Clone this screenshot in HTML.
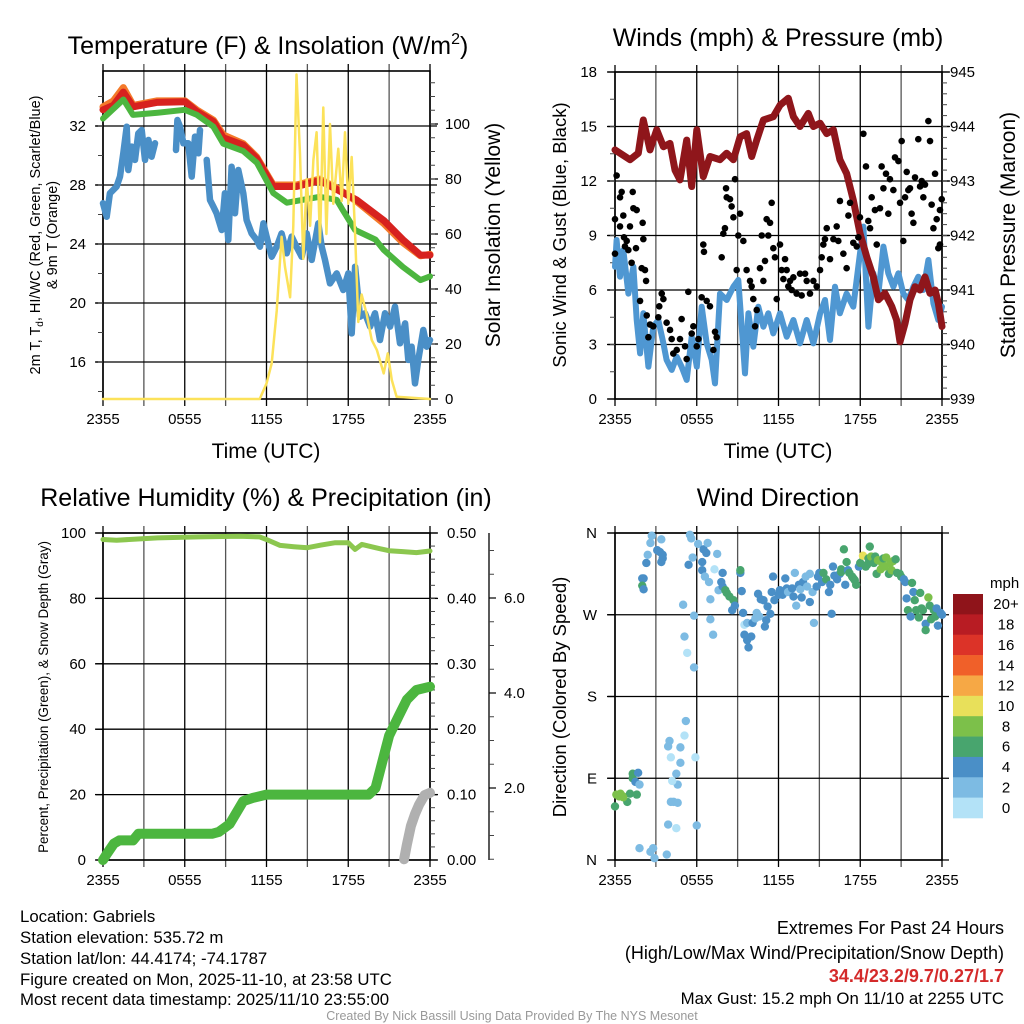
<!DOCTYPE html>
<html><head><meta charset="utf-8"><style>
html,body{margin:0;padding:0;background:#fff}
svg{display:block;font-family:"Liberation Sans",Arial,sans-serif}
</style></head><body>
<svg id="c" xmlns="http://www.w3.org/2000/svg" width="1024" height="1024" viewBox="0 0 1024 1024">
<rect width="1024" height="1024" fill="#fff"/>
<g id="g"></g>
<g font-size="25" fill="#000" text-anchor="middle">
<text x="268" y="54">Temperature (F) &amp; Insolation (W/m<tspan font-size="16" dy="-10">2</tspan><tspan dy="10">)</tspan></text>
<text x="778" y="46">Winds (mph) &amp; Pressure (mb)</text>
<text x="266" y="506">Relative Humidity (%) &amp; Precipitation (in)</text>
<text x="778" y="506">Wind Direction</text>
</g>
<g font-size="21" text-anchor="middle">
<text x="266" y="458">Time (UTC)</text>
<text x="778" y="458">Time (UTC)</text>
<text transform="translate(500,235) rotate(-90)">Solar Insolation (Yellow)</text>
<text transform="translate(1015,235) rotate(-90)">Station Pressure (Maroon)</text>
</g>
<g font-size="18.5" text-anchor="middle">
<text transform="translate(566,235) rotate(-90)">Sonic Wind &amp; Gust (Blue, Black)</text>
<text transform="translate(566,697) rotate(-90)">Direction (Colored By Speed)</text>
</g>
<g font-size="14.5" text-anchor="middle">
<text transform="translate(40,235) rotate(-90)">2m T, T<tspan font-size="10" dy="3">d</tspan><tspan dy="-3">, HI/WC (Red, Green, Scarlet/Blue)</tspan></text>
<text transform="translate(57,235) rotate(-90)">&amp; 9m T (Orange)</text>
</g>
<text transform="translate(48,697) rotate(-90)" font-size="13.4" text-anchor="middle">Percent, Precipitation (Green), &amp; Snow Depth (Gray)</text>
<g font-size="16.8" fill="#000">
<text x="20" y="922">Location: Gabriels</text>
<text x="20" y="943">Station elevation: 535.72 m</text>
<text x="20" y="964">Station lat/lon: 44.4174; -74.1787</text>
<text x="20" y="985">Figure created on Mon, 2025-11-10, at 23:58 UTC</text>
<text x="20" y="1005">Most recent data timestamp: 2025/11/10 23:55:00</text>
<g text-anchor="end">
<text x="1004" y="934" font-size="18">Extremes For Past 24 Hours</text>
<text x="1004" y="959" font-size="18">(High/Low/Max Wind/Precipitation/Snow Depth)</text>
<text x="1004" y="982" font-size="18" fill="#d42a2a" font-weight="bold">34.4/23.2/9.7/0.27/1.7</text>
<text x="1004" y="1004">Max Gust: 15.2 mph On 11/10 at 2255 UTC</text>
</g>
</g>
<text x="512" y="1020" font-size="12.5" fill="#999" text-anchor="middle">Created By Nick Bassill Using Data Provided By The NYS Mesonet</text>
</svg>
<script>
// ---------- data ----------
const xTickLabels=["2355","0555","1155","1755","2355"];
const redT=[0,0.76,1.49,2.22,3.94,6.02,6.87,8.1,8.83,10.3,11.28,12.5,14.2,15.9,17.15,18.6,20.6,22.0,23.3,24];
const redV=[33.1,33.4,34.3,33.3,33.6,33.65,33.0,32.3,31.2,30.7,29.8,27.9,27.9,28.3,27.7,27.0,25.6,24.3,23.25,23.25];
const orangeV=[33.3,33.7,34.6,33.4,33.7,33.7,33.1,32.4,31.4,30.8,29.9,28.0,28.0,28.4,27.8,26.9,25.4,24.1,23.2,23.3];
const greenT=[0,1.5,2.2,4,6,6.9,8.1,8.83,10.3,11.3,12.5,13.5,15.9,17.15,17.6,18.5,20,20.6,22,23.3,24];
const greenV=[32.5,33.8,32.75,32.9,33.1,32.75,31.95,30.8,30.3,29.5,27.45,26.8,27.2,27.0,26.3,24.95,24.3,23.6,22.45,21.55,21.8];
const dewT=[0,0.27,0.51,1,1.25,1.49,1.74,1.86,2.1,2.35,2.59,2.84,3.08,3.33,3.57,3.82,null,5.36,5.46,5.65,5.9,6.26,6.51,6.75,7.0,7.12,null,7.61,7.85,8.1,8.34,8.71,8.95,9.2,9.44,9.69,9.93,10.3,10.54,10.91,11.28,11.52,11.77,12.01,12.38,12.75,13.11,13.48,13.85,14.2,14.58,14.95,15.32,15.8,16.05,16.29,16.66,17.15,17.64,18.0,18.25,18.5,18.86,19.23,19.6,19.96,20.33,20.7,21.07,21.43,21.8,22.17,22.41,22.65,22.9,23.14,23.51,23.76,24];
const dewV=[26.76,25.85,27.44,27.89,28.57,30.15,31.95,29.02,30.6,29.7,31.5,31.73,29.7,31.05,29.92,30.83,null,30.37,32.41,31.95,30.83,30.83,28.57,31.28,30.15,31.73,null,29.7,26.98,26.53,26.08,24.95,27.44,24.27,29.24,26.08,29.02,27.44,25.63,24.72,24.27,23.82,25.4,24.5,23.14,23.82,24.72,23.37,24.5,23.82,23.14,24.72,22.92,25.4,23.82,22.92,21.33,22.01,20.88,22.01,17.94,22.46,19.07,19.3,18.4,19.3,17.49,19.3,18.4,19.75,17.27,18.62,16.14,17.04,14.55,16.14,18.17,17.04,17.49];
const solarT=[0,11.5,12.01,12.38,12.75,13.11,13.36,13.73,13.97,14.2,14.46,14.7,14.95,15.2,15.44,15.68,15.93,16.17,16.4,16.66,16.9,17.27,17.52,17.76,18.0,18.25,18.5,18.74,18.98,19.35,19.72,20.1,20.6,20.9,21.2,21.55,24];
const solarV=[0,0,5.7,13,32,59,48,37,63,118,89,51,80,63,87,97,57,106,60,100,71,91,72,97,71,88,60,28,38,31,21.5,17.8,9.3,16.6,6.9,0.8,0];
const presT=[0,0.37,1.1,1.71,2.08,2.57,3.06,3.55,4.04,4.4,4.77,5.26,5.63,6.0,6.48,6.97,7.7,8.2,8.69,9.18,9.66,10.03,10.4,10.89,11.62,12.11,12.72,13.09,13.58,14.19,14.56,15.05,15.54,16.03,16.51,17.0,17.49,17.98,18.47,18.96,19.33,19.82,20.31,20.67,20.92,21.29,21.65,22.02,22.39,22.75,23.12,23.49,23.73,24];
const presV=[943.57,943.51,943.39,943.51,944.12,943.57,943.94,943.63,943.69,943.2,943.02,943.75,942.9,943.94,943.08,943.45,943.39,943.51,943.39,943.81,943.87,943.45,943.75,944.12,944.18,944.39,944.52,944.18,944.0,944.24,944.0,944.06,943.87,943.94,943.39,943.14,942.65,942.04,941.61,941.24,940.82,940.94,940.7,940.45,940.05,940.39,940.82,941.06,941.0,941.24,940.94,941.0,940.76,940.33];
const windT=[0,0.12,0.37,0.61,0.98,1.35,1.59,1.84,2.08,2.45,2.81,3.18,3.55,3.79,4.16,4.53,4.89,5.26,5.63,6.0,6.36,6.73,7.1,7.34,7.71,8.2,8.69,9.05,9.3,9.54,9.79,10.15,10.52,10.89,11.25,11.62,12.11,12.6,13.09,13.58,14.07,14.56,15.05,15.41,15.78,16.15,16.51,17.0,17.49,17.86,18.23,18.6,18.96,19.33,19.7,20.06,20.43,20.8,21.16,21.53,21.9,22.26,22.63,23.0,23.37,23.73,24];
const windV=[7.28,8.75,6.73,8.2,5.8,7.28,4.35,2.51,4.72,1.78,3.98,4.35,3.06,2.15,1.6,2.33,1.78,1.05,3.43,1.78,5.08,3.06,2.15,0.86,5.8,5.45,6.18,6.55,3.98,1.41,4.72,2.88,5.08,3.98,4.72,3.61,4.72,3.43,4.35,3.06,4.35,3.06,4.72,5.45,3.25,6.18,4.72,5.8,5.08,7.28,9.49,3.98,6.92,5.8,8.39,6.92,6.18,6.92,5.8,5.45,6.18,6.73,6.0,7.65,5.26,4.35,5.08];
const gustT=[0.12,0,0.37,0.49,0.61,0.37,1.1,1.3,1.35,1.59,2.03,0.66,0.86,0.98,0.73,1.54,2.08,1.22,1.96,2.2,2.28,0,1.84,2.33,2.57,2.81,2.45,3.18,3.43,3.25,3.55,3.79,4.04,4.16,4.28,4.53,4.77,4.89,5.14,5.26,5.38,5.63,5.75,6.0,6.12,6.36,6.73,6.97,7.34,7.46,7.22,6.48,6.53,7.83,7.95,8.07,8.15,8.2,8.44,8.56,8.69,8.81,9.05,8.93,9.18,9.42,9.66,9.91,10.03,10.15,10.28,10.4,10.64,10.89,10.77,11.01,11.13,11.25,11.38,11.5,11.62,11.74,11.87,12.11,12.23,12.36,12.48,12.6,12.72,12.85,12.97,13.09,13.33,13.58,13.7,13.95,14.07,14.31,14.56,14.8,15.05,15.17,15.29,15.41,15.54,15.78,16.03,16.27,16.39,16.51,16.76,17.0,17.13,17.25,17.49,17.74,17.86,17.98,18.23,18.42,18.59,18.72,18.84,19.08,19.21,19.45,19.57,19.7,19.89,20.06,20.18,20.43,20.55,20.8,20.92,21.04,21.16,21.29,21.41,21.53,21.65,21.77,21.9,22.02,22.26,22.39,22.51,22.63,22.75,23.0,23.12,23.24,23.37,23.49,23.61,23.73,23.85,23.98,23.85];
const gustV=[12.3,9.9,11.1,11.4,10.1,9.5,9.5,11.4,10.5,10.4,9.7,8.9,8.7,8.2,8.4,8.3,8.8,7.5,7.2,7.1,6.5,8.0,5.4,4.6,4.1,4.0,3.4,4.5,5.8,5.1,5.5,4.2,3.8,3.3,2.5,2.7,3.3,4.4,2.9,2.2,5.9,3.6,4.0,2.9,3.3,5.6,5.4,5.1,3.7,3.4,2.7,8.5,8.1,7.8,9.1,9.4,11.6,11.1,11.0,10.6,10.0,12.1,9.0,7.1,10.2,8.7,7.1,6.5,6.2,5.5,4.0,4.9,7.2,6.5,9.0,7.6,9.9,9.0,9.7,10.8,8.3,7.8,5.5,8.5,7.1,6.6,7.7,7.1,6.2,6.5,6.0,6.7,5.8,6.9,5.7,6.9,6.5,5.8,6.5,6.2,7.1,7.8,8.5,8.8,9.4,7.7,8.8,9.5,8.7,10.9,8.0,7.2,10.1,10.8,8.6,8.4,8.9,10.0,14.6,12.8,9.8,9.4,11.1,10.4,8.5,10.5,12.8,11.6,12.4,10.2,12.1,11.5,13.3,13.1,10.8,14.2,8.7,11.1,12.5,11.5,11.6,10.2,9.7,12.2,14.3,11.7,12.0,11.1,11.8,15.3,14.2,10.7,9.4,12.4,9.9,8.3,10.4,11.0,8.5];
const rhT=[0,1,4,7,10,11.5,12,13,14,15,16,17,18,18.5,19,20,21,22,23,24];
const rhV=[98,97.8,98.5,98.8,99,98.8,98,96.2,95.8,95.5,96.3,97,97,95,96.5,95.5,94.6,94.3,94,94.5];
const precipT=[0,0.3,0.8,1.2,2.2,2.6,8,8.5,9.3,10.3,11,12,19.5,20,20.5,21,21.7,22.3,23,24];
const precipV=[0,0.01,0.025,0.03,0.03,0.04,0.04,0.043,0.055,0.09,0.095,0.10,0.10,0.11,0.15,0.19,0.22,0.245,0.26,0.265];
const snowT=[22.1,22.3,22.6,22.9,23.2,23.6,24];
const snowV=[0.5,0.8,1.2,1.45,1.65,1.85,1.9];
const dirT=[0,0.1,0.4,0.6,0.9,1.1,1.3,1.3,1.7,1.6,1.5,1.8,0.3,0.6,1.8,2.6,2.8,2.9,3.8,3.9,4.5,4.3,4.6,4.1,4.6,4.5,4.2,4.1,4.8,4.0,3.9,4.8,5.1,5.2,5.9,6.0,5.8,5.3,5.1,5.0,5.8,7.0,7.2,2.1,2.0,2.0,2.1,2.3,2.4,2.6,2.7,3.4,3.1,3.3,3.5,3.5,3.4,5.5,5.6,5.7,5.4,6.1,6.5,6.8,6.7,7.5,6.4,6.4,6.6,6.9,7.3,7.6,7.0,7.8,7.9,7.9,8.1,8.2,8.4,8.7,8.6,8.8,9.2,9.2,9.3,9.4,9.5,9.7,9.5,9.7,9.8,10.0,10.1,10.3,10.4,10.6,10.5,10.7,10.9,11.0,11.1,11.2,11.4,11.5,11.6,11.7,12.0,12.1,12.3,12.5,12.6,12.7,13.0,13.1,13.2,13.3,13.5,13.6,13.7,13.8,14.0,14.1,14.3,14.3,14.5,14.6,14.8,14.9,15.0,15.2,15.3,15.5,15.7,15.8,15.9,16.0,16.1,16.3,16.5,16.6,16.6,16.8,16.9,17.0,17.1,17.2,17.4,17.5,17.6,17.7,17.9,18.0,18.2,18.4,18.5,18.6,18.7,18.8,19.0,19.1,19.2,19.3,19.5,19.6,19.7,19.8,19.9,20.1,20.2,20.3,20.4,20.6,20.7,20.9,21.0,21.2,21.3,21.4,21.5,21.7,21.8,21.9,22.0,22.1,22.3,22.4,22.5,22.6,22.8,22.8,23.0,23.1,23.2,23.4,23.5,23.6,23.7,23.9,24.0];
const dirV=[59,72,73,70,64,73,90,95,96,72,86,83,70,69,13,9,13,2,6,39,35,64,63,64,83,95,87,113,107,131,125,124,137,153,113,38,212,228,246,281,269,265,248,310,310,302,298,327,336,349,357,353,341,339,332,336,328,358,354,333,325,348,342,349,338,337,328,319,312,306,320,297,287,306,316,301,297,294,290,286,275,280,316,319,296,272,259,261,248,242,234,246,261,266,272,268,293,287,286,257,264,279,271,295,312,286,292,297,292,310,299,295,299,290,316,280,303,298,289,306,312,301,315,284,295,261,301,312,316,306,316,309,295,303,271,323,313,309,315,317,320,342,303,328,319,316,312,310,308,303,323,327,335,323,325,332,345,334,327,334,315,330,320,327,332,323,333,315,327,319,329,331,316,315,312,309,306,288,275,268,305,295,286,275,267,294,277,275,260,253,289,280,265,275,268,277,258,272,270];
const dirSpd=[6,8,8,8,6,6,6,6,4,6,4,2,8,8,2,2,2,2,2,2,0,2,2,2,2,2,0,0,2,2,2,2,0,2,0,2,2,0,2,2,2,2,2,4,4,6,4,4,2,2,2,2,4,4,4,4,4,2,2,2,4,2,4,2,4,2,4,4,2,2,0,2,2,4,4,4,6,6,6,6,4,4,4,6,4,4,0,2,4,4,4,4,4,2,2,2,4,4,4,4,4,4,4,4,4,4,4,4,4,4,4,2,4,4,2,2,4,2,4,4,2,2,2,4,2,2,4,4,4,4,6,6,4,4,4,4,4,4,4,6,6,6,4,6,4,6,6,6,6,6,4,6,10,6,6,6,6,8,6,6,6,8,8,8,6,8,8,6,8,8,8,6,6,6,6,4,4,4,6,4,6,4,6,6,6,6,6,6,4,6,8,6,6,6,6,4,4,4,4];
const cbLabels=["20+","18","16","14","12","10","8","6","4","2","0"];
const cbColors=["#8f141a","#b81c23","#dc3328","#f06029","#f6a845","#e8e05a","#7cc04a","#48a56e","#4a8fc7","#7dbbe3","#b3e2f7"];

// ---------- helpers ----------
const NS="http://www.w3.org/2000/svg";
const G=document.getElementById('g');
function mk(tag,attrs,parent){const e=document.createElementNS(NS,tag);for(const k in attrs)e.setAttribute(k,attrs[k]);(parent||G).appendChild(e);return e;}
function lin(d0,d1,r0,r1){return v=>r0+(v-d0)*(r1-r0)/(d1-d0);}
function pathD(ts,vs,sx,sy){let d="",pen=false;for(let i=0;i<ts.length;i++){if(ts[i]===null||vs[i]===null){pen=false;continue;}d+=(pen?"L":"M")+sx(ts[i]).toFixed(1)+" "+sy(vs[i]).toFixed(1);pen=true;}return d;}

function panelFrame(x0,x1,y0,y1,name,xlabels){
  const g=mk('g',{});
  
  
  const sx=lin(0,24,x0,x1);
  for(let h=0;h<=24;h+=3){const x=sx(h);const l=mk('line',{x1:x,x2:x,y1:y0-7,y2:y1+7,stroke:h%6===0?'#000':'#555','stroke-width':1.3},g);}
  if(xlabels){xlabels.forEach((s,i)=>{const t=mk('text',{x:sx(i*6),y:y1+25,'font-size':15,'text-anchor':'middle'},g);t.textContent=s;});}
  const r=mk('rect',{x:x0,y:y0,width:x1-x0,height:y1-y0,fill:'none',stroke:'#000','stroke-width':1.6},g);
  
  
  return {sx,g};
}
function yAxis(g,x0,x1,sy,ticks,labels,side,minor,labX,grid){
  ticks.forEach((v,i)=>{const y=sy(v);
    if(grid){const l=mk('line',{x1:x0-7,x2:x1+7,y1:y,y2:y,stroke:'#000','stroke-width':1.3},g);}
    const xx=side==='L'?x0:x1;const l2=mk('line',{x1:xx,x2:side==='L'?xx-8:xx+8,y1:y,y2:y,stroke:'#000','stroke-width':1.3},g);
    const t=mk('text',{x:labX,y:y+5,'font-size':15,'text-anchor':side==='L'?'end':'start'},g);t.textContent=labels[i];});
  if(minor){minor.forEach(v=>{const y=sy(v);const xx=side==='L'?x0:x1;const l=mk('line',{x1:xx,x2:side==='L'?xx-5:xx+5,y1:y,y2:y,stroke:'#444','stroke-width':1},g);});}
}
function range(a,b,s){const r=[];for(let v=a;v<=b+1e-9;v+=s)r.push(+v.toFixed(4));return r;}

// ---------- panel 1 ----------
(function(){
  const x0=103,x1=430,y0=71,y1=399;
  const f=panelFrame(x0,x1,y0,y1,'temperature',xTickLabels);
  const sy=lin(32,16,126,362), sy2=lin(0,100,399,124);
  yAxis(f.g,x0,x1,sy,[32,28,24,20,16],["32","28","24","20","16"],'L',range(14,34,2),86,true);
  yAxis(f.g,x0,x1,sy2,[0,20,40,60,80,100],["0","20","40","60","80","100"],'R',range(5,115,5),445,false);
  const s=f.sx;
  const lines=[[redT,orangeV,'#f47a2a',7,'orange-9m-temp-line'],[redT,redV,'#d7221f',7,'red-2m-temp-line'],[greenT,greenV,'#4cb63f',6,'green-hiwc-line'],[dewT,dewV,'#4a8fc7',6.5,'blue-dewpoint-line'],[solarT,solarV,'#fce25a',2.5,'yellow-insolation-line']];
  lines.forEach(L=>{const p=mk('path',{d:pathD(L[0],L[1],s,L[4].startsWith('yellow')?sy2:sy),fill:'none',stroke:L[2],'stroke-width':L[3],'stroke-linejoin':'round','stroke-linecap':'round'});
    
    });
})();

// ---------- panel 2 ----------
(function(){
  const x0=615,x1=942,y0=72,y1=399;
  const f=panelFrame(x0,x1,y0,y1,'winds',xTickLabels);
  const sy=lin(0,18,399,72), sy2=lin(939,945,399,72);
  yAxis(f.g,x0,x1,sy,[0,3,6,9,12,15,18],["0","3","6","9","12","15","18"],'L',range(1.5,16.5,1.5),597,true);
  yAxis(f.g,x0,x1,sy2,[939,940,941,942,943,944,945],["939","940","941","942","943","944","945"],'R',range(939.2,944.8,0.2),950,false);
  const s=f.sx;
  const gw=mk('path',{d:pathD(windT,windV,s,sy),fill:'none',stroke:'#4f97d2','stroke-width':6,'stroke-linejoin':'round','stroke-linecap':'round'});
  
  
  const gp=mk('path',{d:pathD(presT,presV,s,sy2),fill:'none',stroke:'#8f161b','stroke-width':7,'stroke-linejoin':'round','stroke-linecap':'round'});
  
  
  gustT.forEach((t,i)=>{const c=mk('circle',{cx:s(t),cy:sy(gustV[i]),r:3.3,fill:'#000'});
    
    });
})();

// ---------- panel 3 ----------
(function(){
  const x0=103,x1=430,y0=533,y1=860;
  const f=panelFrame(x0,x1,y0,y1,'humidity',xTickLabels);
  const sy=lin(0,100,860,533), sy2=lin(0,0.5,860,533), sy3=lin(2,4,788,693);
  yAxis(f.g,x0,x1,sy,[0,20,40,60,80,100],["0","20","40","60","80","100"],'L',null,86,true);
  yAxis(f.g,x0,x1,sy2,[0,0.1,0.2,0.3,0.4,0.5],["0.00","0.10","0.20","0.30","0.40","0.50"],'R',range(0.02,0.48,0.02),447,false);
  const ax=mk('line',{x1:489,x2:489,y1:533,y2:860,stroke:'#000','stroke-width':1.3});
  
  
  [2,4,6].forEach(v=>{const y=sy3(v);mk('line',{x1:489,x2:496,y1:y,y2:y,stroke:'#000','stroke-width':1.2});const t=mk('text',{x:504,y:y+5,'font-size':15});t.textContent=v.toFixed(1);
    
    });
  range(0.5,7.5,0.5).forEach(v=>{if(v%2===0)return;const y=sy3(v);if(y<533||y>860)return;mk('line',{x1:489,x2:494,y1:y,y2:y,stroke:'#444','stroke-width':1});});
  const s=f.sx;
  const a=mk('path',{d:pathD(rhT,rhV,s,sy),fill:'none',stroke:'#8cc74f','stroke-width':5,'stroke-linejoin':'round','stroke-linecap':'round'});
  
  
  const b=mk('path',{d:pathD(precipT,precipV,s,sy2),fill:'none',stroke:'#4cb63f','stroke-width':10,'stroke-linejoin':'round','stroke-linecap':'round'});
  
  
  const c=mk('path',{d:pathD(snowT,snowV,s,sy3),fill:'none',stroke:'#b0b0b0','stroke-width':10,'stroke-linejoin':'round','stroke-linecap':'round'});
  
  
})();

// ---------- panel 4 ----------
(function(){
  const x0=615,x1=942,y0=533,y1=860;
  const f=panelFrame(x0,x1,y0,y1,'wind-direction',xTickLabels);
  const sy=lin(0,360,860,533);
  yAxis(f.g,x0,x1,sy,[0,90,180,270,360],["N","E","S","W","N"],'L',null,597,true);
  const s=f.sx;
  const col=v=>cbColors[10-Math.min(10,Math.floor(v/2))];
  dirT.forEach((t,i)=>{const c=mk('circle',{cx:s(t),cy:sy(dirV[i]),r:4.2,fill:col(dirSpd[i])});
    
    });
  const cb=mk('g',{});
  
  
  const t0=mk('text',{x:990,y:588,'font-size':15},cb);t0.textContent='mph';
  const bh=(818-594)/11;
  cbLabels.forEach((lab,i)=>{const r=mk('rect',{x:953,y:594+i*bh,width:30,height:bh+0.3,fill:cbColors[i]},cb);
    
    
    const t=mk('text',{x:1006,y:594+i*bh+bh/2+5,'font-size':15,'text-anchor':'middle'},cb);t.textContent=lab;});
})();
</script>
</body></html>
